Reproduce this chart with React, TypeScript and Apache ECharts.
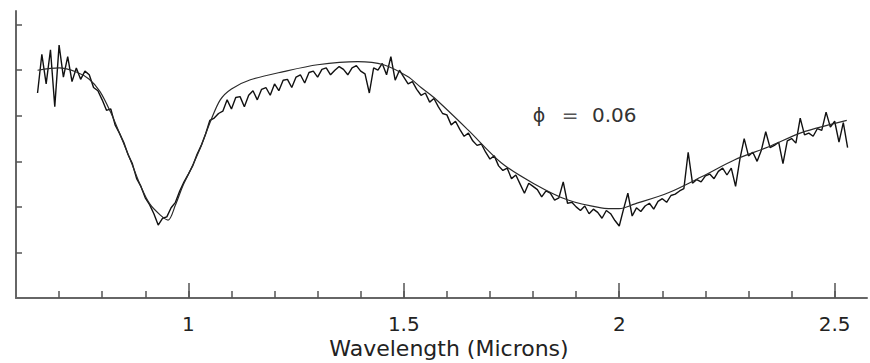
import React, { useEffect, useRef } from "react";
import * as echarts from "echarts";

// Wavelength grid of the measured spectrum (microns)
const DATA_START = 0.65;
const DATA_STEP = 0.01;
// Measured reflectance (arbitrary units, y-axis tick = 1)
const dataValues: number[] = [
  4.50, 5.35, 4.70, 5.45, 4.20, 5.55, 4.85, 5.30, 4.75, 5.05,
  4.80, 4.98, 4.90, 4.62, 4.55, 4.35, 4.12, 4.15, 3.80, 3.62,
  3.42, 3.15, 2.95, 2.62, 2.45, 2.20, 2.05, 1.85, 1.60, 1.75,
  1.78, 1.98, 2.10, 2.35, 2.55, 2.72, 2.90, 3.15, 3.35, 3.60,
  3.90, 3.95, 4.05, 4.10, 4.35, 4.15, 4.40, 4.42, 4.20, 4.45,
  4.55, 4.35, 4.58, 4.62, 4.45, 4.70, 4.55, 4.78, 4.80, 4.62,
  4.85, 4.90, 4.72, 4.95, 4.98, 4.85, 5.02, 5.05, 4.90, 5.00,
  5.08, 5.02, 4.90, 5.05, 5.10, 4.98, 4.92, 4.50, 5.05, 5.00,
  5.15, 4.90, 5.30, 4.78, 5.00, 4.85, 4.70, 4.75, 4.58, 4.45,
  4.50, 4.30, 4.38, 4.20, 4.05, 4.02, 3.80, 3.88, 3.70, 3.55,
  3.62, 3.45, 3.35, 3.38, 3.20, 3.05, 3.12, 2.90, 2.80, 2.85,
  2.62, 2.70, 2.50, 2.30, 2.52, 2.45, 2.38, 2.22, 2.35, 2.30,
  2.15, 2.20, 2.55, 2.08, 2.10, 2.00, 1.92, 2.02, 1.85, 1.95,
  1.88, 1.75, 1.92, 1.85, 1.70, 1.58, 1.95, 2.30, 1.80, 1.98,
  1.90, 2.02, 2.08, 1.95, 2.12, 2.18, 2.10, 2.25, 2.28, 2.35,
  2.40, 3.20, 2.52, 2.60, 2.55, 2.68, 2.72, 2.62, 2.78, 2.85,
  2.70, 2.85, 2.45, 3.05, 3.50, 3.12, 3.20, 3.00, 3.25, 3.65,
  3.30, 3.35, 3.42, 2.95, 3.45, 3.50, 3.40, 3.95, 3.58, 3.62,
  3.55, 3.72, 3.68, 4.08, 3.75, 3.88, 3.42, 3.85, 3.30,
];

// Model fit: [wavelength, reflectance]
const modelPoints: [number, number][] = [
  [0.65, 5.0], [0.7, 5.05], [0.74, 4.96], [0.77, 4.8], [0.795, 4.53],
  [0.82, 4.07], [0.84, 3.62], [0.865, 3.04], [0.89, 2.44], [0.91, 2.07],
  [0.935, 1.82], [0.953, 1.71], [0.97, 2.04], [0.988, 2.48], [1.005, 2.81],
  [1.028, 3.3], [1.051, 3.87], [1.074, 4.35], [1.1, 4.59], [1.144, 4.79],
  [1.221, 4.97], [1.3, 5.12], [1.393, 5.19], [1.453, 5.12], [1.509, 4.86],
  [1.54, 4.62], [1.57, 4.4], [1.649, 3.69], [1.726, 2.97], [1.802, 2.51],
  [1.881, 2.15], [1.958, 1.98], [2.0, 1.96], [2.035, 2.06], [2.114, 2.31],
  [2.191, 2.66], [2.267, 3.03], [2.347, 3.32], [2.423, 3.63], [2.486, 3.8],
  [2.528, 3.9],
];

const minorTicks = [
  0.7, 0.8, 0.9, 1.0, 1.1, 1.2, 1.3, 1.4, 1.5, 1.6, 1.7, 1.8, 1.9, 2.0,
  2.1, 2.2, 2.3, 2.4, 2.5,
];
const majorTicks = [1, 1.5, 2, 2.5];
const yTicks = [1, 2, 3, 4, 5, 6];

const X_MIN = 0.6;
const X_MAX = 2.575;
const Y_MIN = 0;
const Y_MAX = 6.3;

const AXIS_NAME = "Wavelength (Microns)";
const PHI_SYMBOL = "ϕ";
const PHI_VALUE = "0.06";

export default function App() {
  const ref = useRef<HTMLDivElement>(null);

  useEffect(() => {
    if (!ref.current) return;
    const chart = echarts.init(ref.current, undefined, { renderer: "svg" });
    const dataSeries = dataValues.map((v, i) => [
      +(DATA_START + i * DATA_STEP).toFixed(3),
      v,
    ]);
    const axisColor = "#666";
    const font = "DejaVu Sans";
    chart.setOption({
      animation: false,
      backgroundColor: "#ffffff",
      grid: { left: 16, right: 3, top: 11, bottom: 65 },
      xAxis: [
        {
          type: "value",
          min: X_MIN,
          max: X_MAX,
          position: "bottom",
          axisLine: { show: true, lineStyle: { color: axisColor, width: 2 } },
          splitLine: { show: false },
          axisTick: {
            show: true,
            inside: true,
            length: 7,
            customValues: minorTicks,
            lineStyle: { color: "#555", width: 1.5 },
          },
          axisLabel: { show: false },
        },
        {
          type: "value",
          min: X_MIN,
          max: X_MAX,
          position: "bottom",
          axisLine: { show: false },
          splitLine: { show: false },
          axisTick: {
            show: true,
            inside: true,
            length: 15,
            customValues: majorTicks,
            lineStyle: { color: "#555", width: 1.5 },
          },
          axisLabel: {
            show: true,
            customValues: majorTicks,
            margin: 16,
            fontSize: 20,
            fontFamily: font,
            color: "#222",
          },
        },
      ],
      yAxis: {
        type: "value",
        min: Y_MIN,
        max: Y_MAX,
        axisLine: { show: true, lineStyle: { color: axisColor, width: 2 } },
        splitLine: { show: false },
        axisTick: {
          show: true,
          inside: true,
          length: 6,
          customValues: yTicks,
          lineStyle: { color: "#555", width: 1.5 },
        },
        axisLabel: { show: false },
      },
      series: [
        {
          type: "line",
          xAxisIndex: 0,
          data: dataSeries,
          showSymbol: false,
          smooth: false,
          lineStyle: { color: "#111", width: 1.4 },
        },
        {
          type: "line",
          xAxisIndex: 0,
          data: modelPoints,
          showSymbol: false,
          smooth: 0.3,
          lineStyle: { color: "#2a2a2a", width: 1.2 },
        },
      ],
      graphic: [
        {
          type: "text",
          x: 449,
          y: 337,
          style: {
            text: AXIS_NAME,
            fontSize: 22,
            fontFamily: font,
            fill: "#222",
            align: "center",
            verticalAlign: "top",
          },
        },
        {
          type: "text",
          x: 539,
          y: 115,
          style: {
            text: PHI_SYMBOL,
            fontSize: 19,
            fontFamily: font,
            fill: "#333",
            align: "center",
            verticalAlign: "middle",
          },
        },
        {
          type: "text",
          x: 570,
          y: 115,
          style: {
            text: "=",
            fontSize: 20,
            fontFamily: font,
            fill: "#555",
            align: "center",
            verticalAlign: "middle",
          },
        },
        {
          type: "text",
          x: 592,
          y: 115,
          style: {
            text: PHI_VALUE,
            fontSize: 20,
            fontFamily: font,
            fill: "#333",
            align: "left",
            verticalAlign: "middle",
          },
        },
      ],
    });
    return () => chart.dispose();
  }, []);

  return (
    <div
      ref={ref}
      style={{ position: "absolute", left: 0, top: 0, width: 870, height: 363 }}
    />
  );
}
